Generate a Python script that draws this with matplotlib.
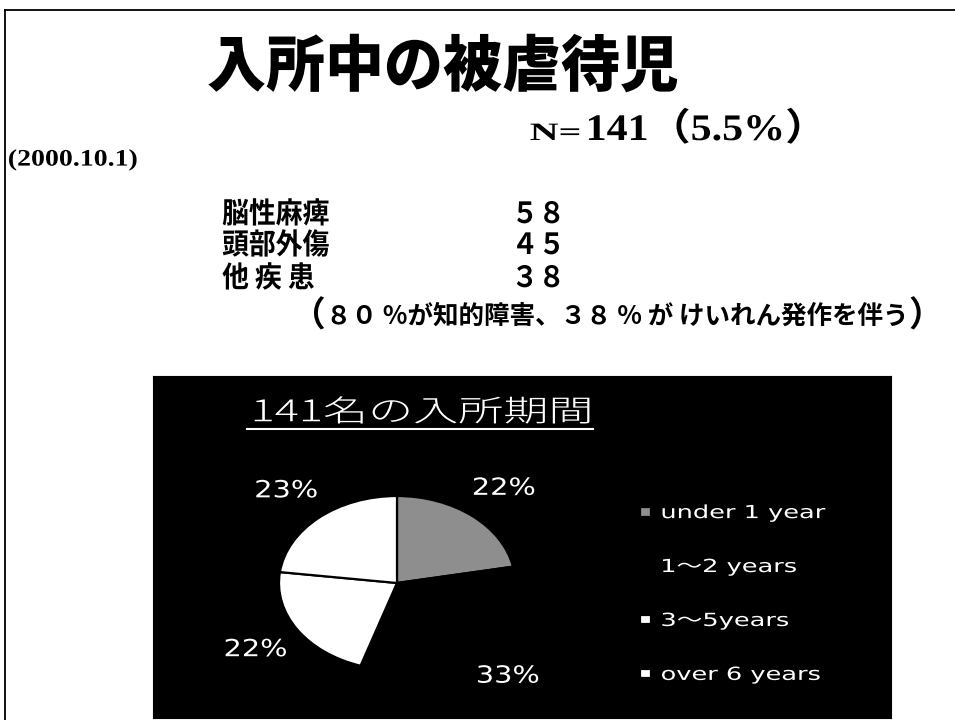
import matplotlib
matplotlib.use("Agg")
import matplotlib.pyplot as plt
from matplotlib.patheffects import AbstractPathEffect
from matplotlib.path import Path
from matplotlib.transforms import Affine2D
from matplotlib.lines import Line2D
from matplotlib.text import Annotation

# ---------------- data ----------------
title = "入所中の被虐待児"
date_label = "(2000.10.1)"
n_prefix = "N="
n_total = 141
n_rate = "5.5%"
diseases = ["脳性麻痺", "頭部外傷", "他 疾 患"]
disease_counts = [58, 45, 38]
note_body = "８０ %が知的障害、３８ % が けいれん発作を伴う"
pie_title = "141名の入所期間"
durations = ["under 1 year", "1～2 years", "3～5years", "over 6 years"]
shares = [22, 33, 22, 23]
slice_colors = ["#8e8e8e", "black", "white", "white"]

CJK = ["Noto Sans CJK JP", "DejaVu Sans"]
SERIF = ["Liberation Serif", "Noto Sans CJK JP"]
LAT = ["DejaVu Sans", "Noto Sans CJK JP"]

W, H = 955, 720


class HStretch(AbstractPathEffect):
    """Scale glyph outlines horizontally (the scanned slide is distorted)."""

    def __init__(self, sx, anchor="center"):
        super().__init__()
        self.sx = sx
        self.anchor = anchor

    def draw_path(self, renderer, gc, tpath, affine, rgbFace=None):
        v = affine.transform(tpath.vertices)
        if tpath.codes is not None:
            v = v[tpath.codes != Path.CLOSEPOLY]
        if len(v):
            x0, x1 = v[:, 0].min(), v[:, 0].max()
        else:
            x0 = x1 = 0.0
        cx = {"left": x0, "right": x1}.get(self.anchor, 0.5 * (x0 + x1))
        aff = affine + Affine2D().translate(-cx, 0).scale(self.sx, 1).translate(cx, 0)
        renderer.draw_path(gc, tpath, aff, rgbFace)


def fx(x):
    return x / W


def fy(y):
    return 1 - y / H


def full_width(n):
    return str(n).translate({ord(c): 0xFF10 + i for i, c in enumerate("0123456789")})


fig = plt.figure(figsize=(9.55, 7.2), dpi=100)
fig.patch.set_facecolor("white")

# slide frame
fig.add_artist(Line2D([fx(5), 1], [fy(10), fy(10)], color="black", lw=1.3))
fig.add_artist(Line2D([fx(5), fx(5)], [fy(10), 0], color="black", lw=1.3))

# ---------------- upper text ----------------
fig.text(fx(443), fy(68), title, family=CJK, fontsize=44, weight="black",
         ha="center", va="center", path_effects=[HStretch(0.965)])
fig.text(fx(530), fy(140), n_prefix, family=SERIF, fontsize=18, weight="bold",
         ha="left", va="baseline", path_effects=[HStretch(1.6, "left")])
fig.text(fx(586), fy(140), f"{n_total}（{n_rate}）", family=SERIF, fontsize=27,
         weight="bold", ha="left", va="baseline", path_effects=[HStretch(1.12, "left")])
fig.text(fx(8), fy(160), date_label, family=SERIF, fontsize=17, weight="bold",
         ha="left", va="center", path_effects=[HStretch(1.18, "left")])

row_y = [214, 245, 278]
for name, cnt, y in zip(diseases, disease_counts, row_y):
    fig.text(fx(222), fy(y), name, family=CJK, fontsize=21, weight="bold",
             ha="left", va="center", path_effects=[HStretch(0.92, "left")])
    fig.text(fx(511), fy(y), full_width(cnt), family=CJK, fontsize=21, weight="bold",
             ha="left", va="center", path_effects=[HStretch(0.92, "left")])

body = fig.text(fx(326), fy(316), note_body, family=CJK, fontsize=18.4, weight="bold",
                ha="left", va="center")
fig.add_artist(Annotation("（", xy=(0, 0.5), xycoords=body, ha="right", va="center",
                          family=CJK, fontsize=25, weight="bold"))
fig.add_artist(Annotation("）", xy=(1, 0.5), xycoords=body, ha="left", va="center",
                          family=CJK, fontsize=25, weight="bold"))

# ---------------- black chart panel ----------------
panel = fig.add_axes([fx(153), fy(718), fx(891) - fx(153), fy(376) - fy(718)])
panel.set_facecolor("black")
panel.set_xticks([])
panel.set_yticks([])
for s in panel.spines.values():
    s.set_color("black")

fig.text(fx(252), fy(413), pie_title, family=CJK, fontsize=21.5, weight="light",
         color="white", ha="left", va="center", path_effects=[HStretch(1.51, "left")])
fig.add_artist(Line2D([fx(247), fx(593)], [fy(429), fy(429)], color="white", lw=1.5))

# pie (ellipse: 118 px wide radius, 87 px tall radius)
cx, cy, rx, ry, lim = 397, 583, 118, 87, 1.55
pie_ax = fig.add_axes([fx(cx - lim * rx), fy(cy + lim * ry), 2 * lim * rx / W, 2 * lim * ry / H])
wedges, _, autotexts = pie_ax.pie(
    shares, colors=slice_colors, startangle=90, counterclock=False,
    autopct=lambda p: f"{p:.0f}%", pctdistance=1.42,
    wedgeprops=dict(edgecolor="black", linewidth=1.6),
    textprops=dict(color="white", fontsize=17, family=LAT),
)
pie_ax.set_aspect("auto")
pie_ax.set_xlim(-lim, lim)
pie_ax.set_ylim(-lim, lim)
pie_ax.patch.set_alpha(0)
for t in autotexts:
    t.set_path_effects([HStretch(1.22)])

leg = pie_ax.legend(
    wedges, durations, loc="center left",
    bbox_to_anchor=(fx(624), fy(594)), bbox_transform=fig.transFigure,
    frameon=False, labelcolor="white", prop=dict(family=LAT, size=13),
    handlelength=0.6, handleheight=0.45, handletextpad=0.55, labelspacing=1.99,
)
for t in leg.get_texts():
    t.set_path_effects([HStretch(1.42, "left")])

fig.savefig("out.png", dpi=100, facecolor="white")
